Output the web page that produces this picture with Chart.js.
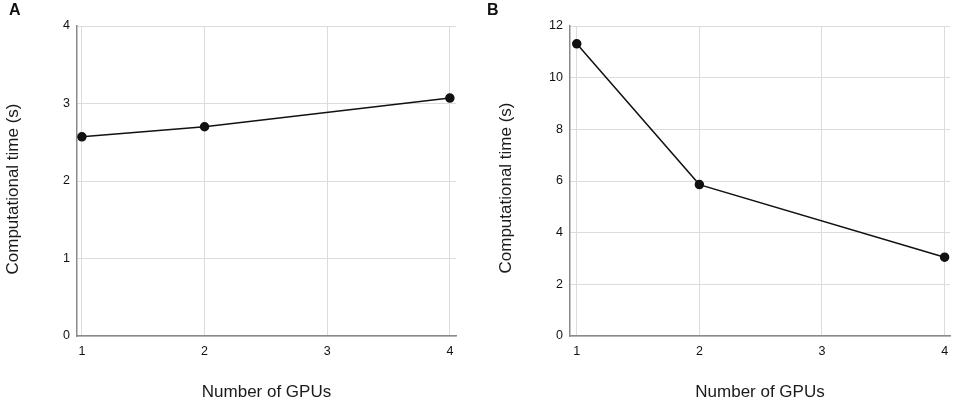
<!DOCTYPE html>
<html><head><meta charset="utf-8">
<script src="https://cdn.jsdelivr.net/npm/chart.js@4"></script>
<style>
html,body{margin:0;padding:0;background:#fff;width:957px;height:403px;overflow:hidden;font-family:"Liberation Sans",Arial,sans-serif}
.panel{position:absolute;top:0;height:403px}
.lbl{position:absolute;top:1px;font-weight:bold;font-size:16px;color:#111}
</style></head><body>
<div class="panel" style="left:0;width:478px"><canvas id="cA" width="478" height="403"></canvas></div>
<div class="panel" style="left:478px;width:479px"><canvas id="cB" width="479" height="403"></canvas></div>
<div class="lbl" style="left:9px">A</div>
<div class="lbl" style="left:487px">B</div>
<script>
const gpus = [1, 2, 4];
const timeA = [2.57, 2.70, 3.07];
const timeB = [11.31, 5.86, 3.05];
const xTicks = [1, 2, 3, 4];
const yTicksA = [0, 1, 2, 3, 4];
const yTicksB = [0, 2, 4, 6, 8, 10, 12];
const xTitle = 'Number of GPUs';
const yTitle = 'Computational time (s)';

const FONT = "'Liberation Sans', Arial, sans-serif";

const yTitlePlugin = {
  id: 'yTitlePlugin',
  afterDraw(chart, args, opts) {
    const ctx = chart.ctx;
    ctx.save();
    ctx.translate(opts.x, opts.y);
    ctx.rotate(-Math.PI / 2);
    ctx.font = '17px ' + FONT;
    ctx.fillStyle = '#1a1a1a';
    ctx.textAlign = 'center';
    ctx.textBaseline = 'middle';
    ctx.fillText(opts.text, 0, 0);
    ctx.restore();
  }
};

function makeChart(id, values, yMax, yTickVals, geo) {
  return new Chart(document.getElementById(id), {
    type: 'line',
    plugins: [yTitlePlugin],
    data: {
      datasets: [{
        data: gpus.map((g, i) => ({x: g, y: values[i]})),
        borderColor: '#111',
        backgroundColor: '#111',
        borderWidth: 1.5,
        pointRadius: 4,
        pointHoverRadius: 4,
        tension: 0,
        fill: false
      }]
    },
    options: {
      responsive: false,
      animation: false,
      events: [],
      layout: {padding: {top: geo.top, right: geo.right, left: 0, bottom: 0}},
      plugins: {
        legend: {display: false}, tooltip: {enabled: false},
        yTitlePlugin: {text: yTitle, x: geo.tx, y: geo.ty}
      },
      scales: {
        x: {
          type: 'linear',
          min: geo.xmin, max: geo.xmax,
          afterBuildTicks: s => { s.ticks = xTicks.map(v => ({value: v})); },
          grid: {color: '#dcdcdc', drawTicks: false, lineWidth: 1},
          border: {color: '#8a8a8a', width: 1.5},
          ticks: {color: '#111', font: {family: FONT, size: 12.5}, padding: 8},
          title: {display: true, text: xTitle, color: '#1a1a1a', font: {family: FONT, size: 17}, padding: {top: 20, bottom: 0}},
          afterFit: s => { s.height = 403 - 336; }
        },
        y: {
          min: 0, max: yMax,
          afterBuildTicks: s => { s.ticks = yTickVals.map(v => ({value: v})); },
          grid: {color: '#dcdcdc', drawTicks: false, lineWidth: 1},
          border: {color: '#8a8a8a', width: 1.5},
          ticks: {color: '#111', font: {family: FONT, size: 12.5}, padding: 7},
          title: {display: false},
          afterFit: s => { s.width = geo.left; }
        }
      }
    }
  });
}

makeChart('cA', timeA, 4, yTicksA, {left: 77, top: 26, right: 22, xmin: 0.96, xmax: 4.05, tx: 13, ty: 189});
makeChart('cB', timeB, 12, yTicksB, {left: 92, top: 26, right: 7, xmin: 0.945, xmax: 4.044, tx: 28, ty: 188});
</script>
</body></html>
